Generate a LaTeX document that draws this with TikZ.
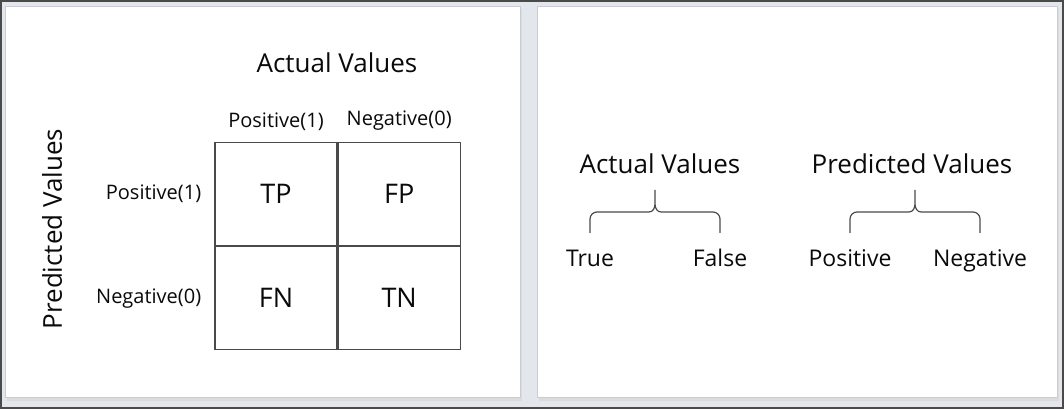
\documentclass[tikz,border=0pt]{standalone}
\usepackage{fontspec}
\setmainfont{Open Sans}
\usetikzlibrary{positioning,calc}
\definecolor{frame}{HTML}{4A4A4A}
\definecolor{panelline}{HTML}{C8CDD5}
\definecolor{gap}{HTML}{E3E6EA}
\definecolor{ink}{HTML}{0A0A0A}

\begin{document}
\begin{tikzpicture}[x=1pt,y=1pt,node distance=0pt,
   every node/.style={text=ink,inner sep=0pt},
   cell/.style={draw=frame,line width=1.2pt,minimum width=122pt,
     minimum height=103pt,font=\fontsize{27}{32}\selectfont},
   lbl/.style={font=\fontsize{20}{24}\selectfont},
   head/.style={font=\fontsize{26}{31}\selectfont},
   item/.style={font=\fontsize{23}{28}\selectfont,anchor=base},
   brc/.style={draw=frame,line width=1.2pt}]
  % background and panels
  \useasboundingbox (0,0) rectangle (1064,409);
  \fill[gap] (0,0) rectangle (1064,409);
  \draw[frame,line width=1.5pt] (1,1) rectangle (1063,408);
  \fill[gray!28] (7,8) rectangle (522,400);
  \fill[gray!28] (539,8) rectangle (1059,400);
  \draw[panelline,fill=white,line width=1pt] (5,11) rectangle (520,402);
  \draw[panelline,fill=white,line width=1pt] (537,11) rectangle (1057,402);

  % confusion matrix
  \node[cell] (tp) at (276,215) {TP};
  \node[cell] (fp) [right=of tp] {FP};
  \node[cell] (fn) [below=of tp] {FN};
  \node[cell] (tn) [right=of fn] {TN};
  \node[lbl] (colpos) [above=11pt of tp] {Positive(1)};
  \node[lbl] (colneg) [above=11pt of fp] {Negative(0)};
  \node[lbl] (rowpos) [left=13pt of tp] {Positive(1)};
  \node[lbl] (rowneg) [left=13pt of fn] {Negative(0)};
  \node[head,anchor=base] (actual) at (337,336) {Actual Values};
  \node[head,rotate=90] (predicted) at (52,180) {Predicted Values};

  % right panel
  \node[head,anchor=base] (actR) at (660,235) {Actual Values};
  \node[head,anchor=base] (predR) at (912,235) {Predicted Values};
  \node[item] (true) at (590,142) {True};
  \node[item] (false) at (720,142) {False};
  \node[item] (pos) at (850,142) {Positive};
  \node[item] (neg) at (980,142) {Negative};
  \foreach \a/\b in {true/false,pos/neg}
    \draw[brc] let \p1=(\a.base), \p2=(\b.base), \n1={(\x1+\x2)/2} in
      (\x1,\y1+34) -- (\x1,\y1+48) arc[start angle=180,end angle=90,radius=7]
      -- (\n1-6,\y1+55) to[out=0,in=-90] (\n1,\y1+63) -- (\n1,\y1+77)
      -- (\n1,\y1+63) to[out=-90,in=180] (\n1+6,\y1+55)
      -- (\x2-7,\y1+55) arc[start angle=90,end angle=0,radius=7]
      -- (\x2,\y1+34);
\end{tikzpicture}
\end{document}
